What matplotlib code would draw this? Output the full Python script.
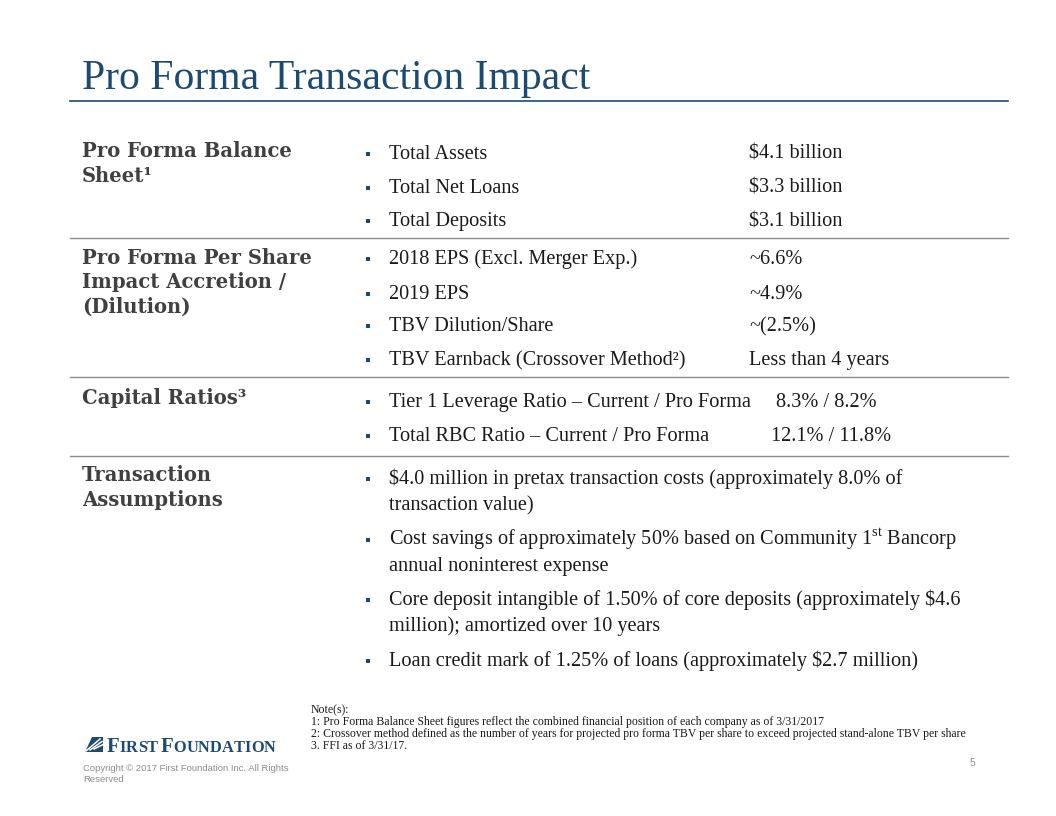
import matplotlib.pyplot as plt
from matplotlib.patches import Rectangle, Polygon

plt.rcParams['mathtext.fontset'] = 'custom'
plt.rcParams['mathtext.rm'] = 'Liberation Serif'

W, H = 1056, 816
SERIF = 'Liberation Serif'
BLUE = '#1b4a72'
HEAD = '#404040'
TEXT = '#1a1a1a'

title = 'Pro Forma Transaction Impact'

# section headers (lines) and their top baseline
sections = [
    ['Pro Forma Balance', 'Sheet¹'],
    ['Pro Forma Per Share', 'Impact Accretion /', '(Dilution)'],
    ['Capital Ratios³'],
    ['Transaction', 'Assumptions'],
]
section_tops = [157, 264, 404, 481]
separators = [238, 377, 456]

bs_labels = ['Total Assets', 'Total Net Loans', 'Total Deposits']
bs_values = ['$4.1 billion', '$3.3 billion', '$3.1 billion']
eps_labels = ['2018 EPS (Excl. Merger Exp.)', '2019 EPS', 'TBV Dilution/Share',
              'TBV Earnback (Crossover Method²)']
eps_values = ['~6.6%', '~4.9%', '~(2.5%)', 'Less than 4 years']
cap_labels = ['Tier 1 Leverage Ratio – Current / Pro Forma', 'Total RBC Ratio – Current / Pro Forma']
cap_values = ['8.3% / 8.2%', '12.1% / 11.8%']
assumptions = [
    ['$4.0 million in pretax transaction costs (approximately 8.0% of', 'transaction value)'],
    [r'Cost savings of approximately 50% based on Community 1$^{\mathrm{st}}$ Bancorp',
     'annual noninterest expense'],
    ['Core deposit intangible of 1.50% of core deposits (approximately $4.6',
     'million); amortized over 10 years'],
    ['Loan credit mark of 1.25% of loans (approximately $2.7 million)'],
]

notes = [
    'Note(s):',
    '1: Pro Forma Balance Sheet figures reflect the combined financial position of each company as of 3/31/2017',
    '2: Crossover method defined as the number of years for projected pro forma TBV per share to exceed projected stand-alone TBV per share',
    '3. FFI as of 3/31/17.',
]

fig = plt.figure(figsize=(W / 100, H / 100), dpi=100)
ax = fig.add_axes([0, 0, 1, 1])
ax.set_xlim(0, W)
ax.set_ylim(H, 0)
ax.axis('off')
renderer = fig.canvas.get_renderer()


def txt(x, y, s, **kw):
    kw.setdefault('family', SERIF)
    kw.setdefault('va', 'baseline')
    return ax.text(x, y, s, **kw)


def bullet(y):
    ax.add_patch(Rectangle((365.5, y - 7.5), 4.5, 4.5, color=BLUE, lw=0))


txt(82, 89, title, fontsize=30, color=BLUE)
ax.plot([70, 1008], [101, 101], color=BLUE, lw=1.2)
for y in separators:
    ax.plot([70, 1008], [y, y], color='#8c8c8c', lw=1.0)

for lines, top in zip(sections, section_tops):
    for i, s in enumerate(lines):
        txt(82, top + i * 24.5, s, family='DejaVu Serif', fontsize=14.1,
            fontweight='bold', color=HEAD)

FS = 14.6
row_base = {'bs': [159, 193, 226], 'eps': [264, 299, 331, 365], 'cap': [407, 441]}
for lab, val, y in zip(bs_labels, bs_values, row_base['bs']):
    bullet(y)
    txt(389, y, lab, fontsize=FS, color=TEXT)
    txt(749, y, val, fontsize=FS, color=TEXT)
for lab, val, y in zip(eps_labels, eps_values, row_base['eps']):
    bullet(y)
    txt(389, y, lab, fontsize=FS, color=TEXT)
    txt(749, y, val, fontsize=FS, color=TEXT)
for lab, val, y, vx in zip(cap_labels, cap_values, row_base['cap'], [776, 771]):
    bullet(y)
    txt(389, y, lab, fontsize=FS, color=TEXT)
    txt(vx, y, val, fontsize=FS, color=TEXT)

ass_base = [484, 545, 605, 666]
for lines, y in zip(assumptions, ass_base):
    bullet(y)
    for i, s in enumerate(lines):
        txt(389, y + i * 26.5, s, fontsize=FS, color=TEXT)

for i, s in enumerate(notes):
    txt(311, 713 + i * 12, s, fontsize=8.5, color=TEXT)

# logo: blue flag with white swoosh stripes + small caps wordmark
ax.add_patch(Polygon([(85, 752), (103, 752), (103, 737), (92, 737)], closed=True,
                     color=BLUE, lw=0))
for k in range(3):
    ax.plot([86 + k * 4, 100 + k * 2], [751 - k * 1, 739 + k * 2.5], color='white', lw=1.1)
x = 107
for word in ['First', 'Foundation']:
    for j, ch in enumerate(word.upper()):
        t = txt(x, 752, ch, fontsize=15 if j == 0 else 11.8, fontweight='bold', color=BLUE)
        x += t.get_window_extent(renderer).width
    x += 3
txt(83, 771, 'Copyright © 2017 First Foundation Inc. All Rights', family='Liberation Sans',
    fontsize=6.8, color='#8c8c8c')
txt(83, 782, 'Reserved', family='Liberation Sans', fontsize=6.8, color='#8c8c8c')
txt(970, 766, '5', family='Liberation Sans', fontsize=7.5, color='#8c8c8c')

fig.savefig('out.png', dpi=100, facecolor='white')
